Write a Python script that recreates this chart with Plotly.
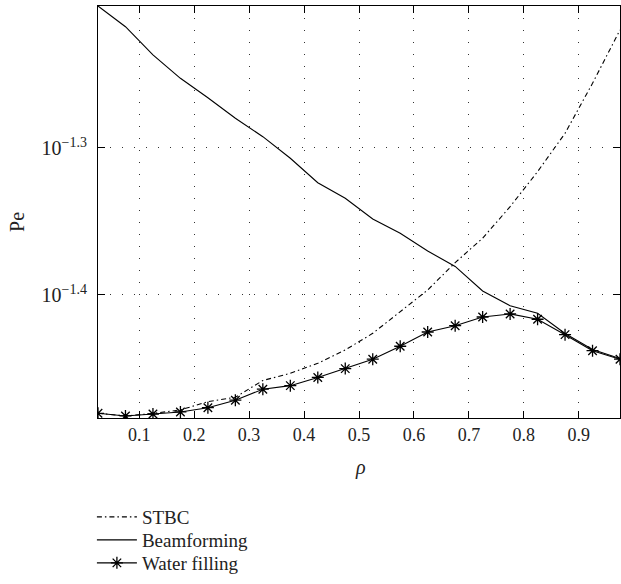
import plotly.graph_objects as go

rho = [0.025, 0.075, 0.125, 0.175, 0.225, 0.275, 0.325, 0.375, 0.425, 0.475,
       0.525, 0.575, 0.625, 0.675, 0.725, 0.775, 0.825, 0.875, 0.925, 0.975]

# log10(Pe)
stbc_log = [-1.4805, -1.4823, -1.4806, -1.4782, -1.4726, -1.4696, -1.4582, -1.4533,
            -1.4465, -1.4374, -1.4261, -1.4114, -1.3966, -1.3780, -1.3614, -1.3399,
            -1.3161, -1.2900, -1.2560, -1.2197]
beam_log = [-1.2034, -1.2175, -1.2367, -1.2526, -1.2658, -1.2798, -1.2923, -1.3070,
            -1.3236, -1.3342, -1.3483, -1.3580, -1.3701, -1.3806, -1.3973, -1.4073,
            -1.4124, -1.4262, -1.4371, -1.4432]
water_log = [-1.4805, -1.4823, -1.4810, -1.4796, -1.4767, -1.4716, -1.4641, -1.4617,
             -1.4561, -1.4501, -1.4437, -1.4349, -1.4252, -1.4209, -1.4150, -1.4129,
             -1.4165, -1.4270, -1.4379, -1.4437]

x_ticks = [0.1, 0.2, 0.3, 0.4, 0.5, 0.6, 0.7, 0.8, 0.9]
x_ticklabels = ["0.1", "0.2", "0.3", "0.4", "0.5", "0.6", "0.7", "0.8", "0.9"]
y_ticks_log = [-1.4, -1.3]
y_ticklabels = ["10<sup>\u22121.4</sup>", "10<sup>\u22121.3</sup>"]

stbc = [10 ** v for v in stbc_log]
beam = [10 ** v for v in beam_log]
water = [10 ** v for v in water_log]

FONT = "Liberation Serif"
INK = "#222222"

fig = go.Figure()
fig.add_trace(go.Scatter(x=rho, y=stbc, mode="lines", name="STBC", legend="legend",
                         line=dict(color="black", width=1.1, dash="5px,3px,1.5px,3px")))
fig.add_trace(go.Scatter(x=rho, y=beam, mode="lines", name="Beamforming", legend="legend2",
                         line=dict(color="black", width=1.1)))
fig.add_trace(go.Scatter(x=rho, y=water, mode="lines+markers", name="Water filling",
                         legend="legend3",
                         line=dict(color="black", width=1.1),
                         marker=dict(symbol="asterisk-open", size=10, color="black",
                                     line=dict(color="black", width=1.3))))

leg_common = dict(xref="container", yref="container", x=0.148,
                  xanchor="left", yanchor="middle",
                  font=dict(family=FONT, size=19, color=INK),
                  bgcolor="rgba(0,0,0,0)", itemwidth=40)

fig.update_layout(
    width=621, height=584,
    margin=dict(l=98, r=1, t=6, b=166, autoexpand=False),
    paper_bgcolor="white", plot_bgcolor="white",
    font=dict(family=FONT, size=18, color=INK),
    showlegend=True,
    legend=dict(y=1 - 517 / 584, **leg_common),
    legend2=dict(y=1 - 540 / 584, **leg_common),
    legend3=dict(y=1 - 563 / 584, **leg_common),
    annotations=[
        dict(text="Pe", xref="paper", yref="paper", x=-0.155, y=0.476,
             showarrow=False, textangle=-90, xanchor="center", yanchor="middle",
             font=dict(family=FONT, size=20, color=INK)),
        dict(text="<i>\u03c1</i>", xref="paper", yref="paper", x=0.502, y=-0.119,
             showarrow=False, xanchor="center", yanchor="middle",
             font=dict(family=FONT, size=20, color=INK)),
    ],
)

fig.update_xaxes(
    range=[0.025, 0.975], tickvals=x_ticks, ticktext=x_ticklabels,
    tickfont=dict(family=FONT, size=18, color=INK),
    ticks="inside", ticklen=7, tickcolor="black", tickwidth=1,
    showline=True, linecolor="black", linewidth=1, mirror="ticks",
    showgrid=True, gridcolor="#333333", griddash="1px,11px", gridwidth=1,
    zeroline=False, automargin=False,
)
fig.update_yaxes(
    type="log", range=[-1.4837, -1.2034],
    tickvals=[10 ** v for v in y_ticks_log], ticktext=y_ticklabels,
    tickfont=dict(family=FONT, size=20, color=INK),
    ticks="inside", ticklen=7, tickcolor="black", tickwidth=1,
    showline=True, linecolor="black", linewidth=1, mirror="ticks",
    showgrid=True, gridcolor="#333333", griddash="1px,11px", gridwidth=1,
    zeroline=False, ticklabelstandoff=6, automargin=False,
)

fig.write_html("out.html")
